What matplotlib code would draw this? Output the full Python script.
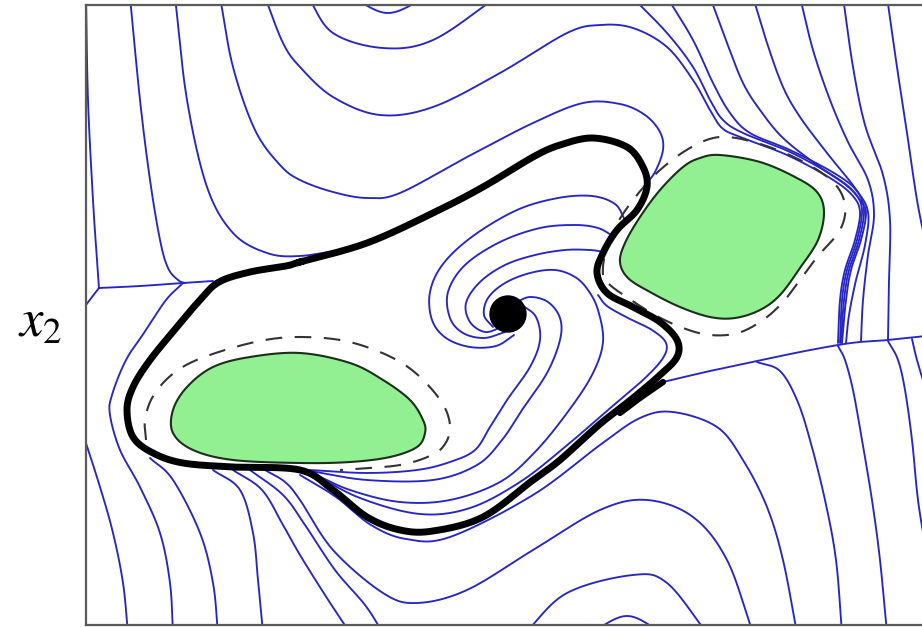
import numpy as np
import matplotlib
matplotlib.use("Agg")
import matplotlib.pyplot as plt
from matplotlib.patches import Polygon, Circle

plt.rcParams['mathtext.fontset'] = 'stix'

# ---------------------------------------------------------------------------
# Phase-plane data, state domain x1 in [0, 836], x2 in [0, 620]
# ---------------------------------------------------------------------------
equilibrium = (422, 311)
equilibrium_radius = 18

# unsafe sets (filled) and their safety margins (dashed)
unsafe_a = [(87, 215), (101, 238), (127, 258), (164, 268), (214, 272), (264, 262),
            (297, 245), (324, 225), (337, 205), (339, 192), (331, 178), (304, 168),
            (264, 163), (214, 162), (147, 165), (107, 175), (87, 192)]
unsafe_b = [(634, 470), (674, 463), (709, 448), (731, 433), (738, 413), (732, 385),
            (714, 357), (694, 330), (674, 315), (649, 307), (624, 308), (594, 318),
            (564, 333), (542, 347), (534, 363), (539, 382), (554, 408), (574, 435),
            (597, 458), (614, 467)]
margin_a = [(60, 185), (59, 205), (66, 227), (82, 247), (104, 262), (139, 275),
            (179, 285), (214, 288), (254, 285), (289, 275), (319, 260), (342, 240),
            (359, 217), (364, 195), (356, 177), (339, 167), (314, 160), (284, 157),
            (254, 155)]
margin_b = [(517, 350), (520, 375), (532, 403), (551, 430), (574, 455), (604, 477),
            (634, 488), (671, 482), (714, 465), (747, 443), (759, 420), (754, 395),
            (732, 369), (714, 345), (697, 323), (677, 305), (652, 292), (624, 290),
            (597, 297), (569, 310), (542, 327), (524, 340)]

# boundary of the estimated region of attraction
boundary = [(214, 363), (281, 382), (347, 412), (397, 438), (447, 468), (474, 480),
            (507, 487), (541, 478), (557, 458), (561, 438), (551, 415), (531, 395),
            (517, 372), (511, 352), (521, 332), (547, 318), (574, 303), (591, 285),
            (591, 268), (574, 250), (547, 227), (514, 201), (474, 165), (447, 145),
            (397, 108), (347, 94), (314, 95), (281, 108), (247, 135), (214, 155),
            (147, 158), (97, 162), (67, 172), (47, 188), (41, 215), (47, 238),
            (64, 265), (91, 298), (114, 325), (133, 343), (164, 353), (200, 359)]
boundary_tail = [(577, 243), (554, 227), (534, 212)]

# trajectories above the boundary
upper_left = [
    [(0, 628), (2, 525), (7, 425), (11, 365), (13, 337)],
    [(13, 337), (6, 328), (-3, 316)],
    [(13, 337), (54, 339), (97, 342), (127, 344)],
    [(44, 628), (54, 525), (64, 445), (74, 385), (82, 357), (92, 345), (99, 342)],
    [(89, 628), (101, 525), (121, 438), (147, 392), (181, 372), (214, 369), (259, 376)],
    [(134, 628), (147, 558), (169, 495), (194, 460), (214, 445), (247, 433), (281, 427),
     (314, 432), (381, 468), (447, 502), (497, 522), (534, 521), (559, 510), (574, 493),
     (577, 475), (569, 453), (559, 440)],
    [(179, 628), (197, 582), (214, 558), (247, 528), (294, 510), (347, 518), (414, 552),
     (481, 592), (514, 600), (547, 597), (581, 578), (607, 545), (624, 515), (636, 497),
     (654, 488), (701, 470), (744, 447), (766, 430), (774, 413), (769, 385), (759, 355),
     (754, 325), (752, 282)],
    [(222, 628), (247, 592), (297, 577), (347, 585), (411, 628)],
    [(265, 628), (302, 612), (341, 628)],
]

top_right = [
    [(546, 628), (581, 592), (607, 558), (624, 525), (637, 505), (657, 492), (704, 473),
     (746, 450), (768, 433), (776, 415), (771, 385), (761, 355), (756, 325), (754, 282)],
    [(581, 628), (607, 585), (627, 542), (644, 512), (664, 492), (704, 475), (748, 452),
     (770, 435), (778, 415), (773, 385), (763, 355), (758, 325), (755, 282)],
    [(624, 628), (641, 582), (657, 542), (674, 515), (697, 487), (731, 460), (760, 440),
     (774, 425), (780, 412), (775, 385), (765, 355), (760, 325), (756, 282)],
    [(667, 628), (681, 582), (697, 538), (714, 508), (741, 472), (769, 437), (782, 413),
     (779, 380), (770, 345), (763, 310), (760, 282)],
    [(714, 628), (727, 575), (744, 525), (762, 483), (782, 445), (788, 410), (782, 370),
     (777, 325), (775, 284)],
    [(757, 628), (767, 558), (779, 500), (797, 450), (804, 405), (803, 345), (802, 285)],
    [(801, 628), (811, 558), (821, 492), (831, 425), (840, 380)],
]

lower_right = [
    [(840, 289), (802, 285), (774, 283), (752, 280), (714, 273), (671, 264), (624, 254),
     (577, 243)],
    [(752, 279), (759, 265), (767, 235), (776, 185), (786, 125), (794, 65), (801, -8)],
    [(802, 284), (812, 265), (819, 235), (826, 185), (832, 125), (840, 75)],
    [(826, 286), (831, 265), (840, 235)],
    [(671, 263), (694, 254), (711, 225), (724, 185), (739, 125), (750, 65), (756, -8)],
    [(214, 150), (250, 128), (285, 100), (320, 86), (364, 88), (447, 130), (514, 180),
     (554, 207), (587, 213), (631, 198), (657, 165), (681, 118), (697, 65), (711, -8)],
    [(179, 155), (199, 143), (214, 125), (247, 75), (297, 32), (331, 22), (381, 35),
     (447, 75), (514, 115), (561, 125), (607, 108), (641, 65), (667, -8)],
    [(439, -8), (481, 32), (547, 50), (581, 42), (621, -8)],
    [(504, -8), (541, 9), (577, -8)],
]

lower_left = [
    [(-2, 188), (14, 138), (27, 92), (37, 42), (42, -8)],
    [(97, 342), (80, 325), (60, 295), (40, 265), (26, 230), (24, 210), (34, 175),
     (54, 138), (74, 92), (84, 42), (87, -8)],
    [(64, 167), (87, 145), (114, 92), (127, 42), (132, -8)],
    [(127, 155), (154, 135), (167, 92), (172, 45), (177, -8)],
    [(147, 155), (176, 135), (197, 100), (214, 70), (239, 30), (264, -8)],
    [(164, 155), (197, 130), (219, 100), (249, 55), (279, 20), (297, -8)],
]

# trajectories inside the boundary converging to the equilibrium
inner = [
    [(224, 155), (281, 152), (331, 155), (364, 163), (389, 175), (404, 198), (421, 225),
     (444, 258), (454, 285), (450, 308), (436, 320)],
    [(224, 154), (281, 145), (347, 145), (391, 160), (416, 185), (436, 215), (461, 252),
     (474, 285), (474, 307), (462, 323), (444, 328), (429, 322)],
    [(224, 153), (264, 135), (314, 123), (364, 125), (414, 143), (449, 173), (481, 212),
     (506, 250), (517, 283), (512, 315), (502, 335), (489, 348), (469, 355), (444, 352),
     (419, 342), (402, 327), (398, 310), (407, 298)],
    [(224, 153), (274, 127), (334, 111), (384, 117), (434, 143), (479, 178), (522, 215),
     (557, 245), (577, 267), (580, 282), (566, 295), (542, 307), (521, 319), (512, 330)],
    [(539, 405), (529, 421), (506, 429), (472, 427), (431, 415), (387, 389), (357, 361),
     (344, 333), (346, 305), (360, 287), (384, 278), (410, 279), (428, 290)],
    [(527, 389), (512, 397), (489, 400), (454, 397), (414, 383), (379, 360), (362, 333),
     (364, 307), (377, 292), (398, 287), (419, 293)],
    [(518, 373), (504, 375), (479, 375), (449, 370), (419, 360), (394, 343), (380, 322),
     (384, 303), (399, 293), (416, 298)],
]


def spline(points, closed=False, n=24):
    """Catmull-Rom curve through the given points."""
    p = np.asarray(points, dtype=float)
    if closed:
        p = np.vstack([p[-1], p, p[0], p[1]])
    else:
        p = np.vstack([2 * p[0] - p[1], p, 2 * p[-1] - p[-2]])
    t = np.linspace(0, 1, n, endpoint=False)[:, None]
    pieces = []
    for i in range(1, len(p) - 2):
        p0, p1, p2, p3 = p[i - 1], p[i], p[i + 1], p[i + 2]
        pieces.append(0.5 * (2 * p1 + (-p0 + p2) * t
                             + (2 * p0 - 5 * p1 + 4 * p2 - p3) * t ** 2
                             + (-p0 + 3 * p1 - 3 * p2 + p3) * t ** 3))
    pieces.append(p[-2][None])
    return np.vstack(pieces)


fig = plt.figure(figsize=(9.22, 6.27), dpi=100)
ax = fig.add_axes([86 / 922, 2 / 627, 836 / 922, 620 / 627])
ax.set_xlim(0, 836)
ax.set_ylim(0, 620)
ax.set_xticks([])
ax.set_yticks([])
for side in ('left', 'top', 'bottom'):
    ax.spines[side].set_color('#5a5a5a')
    ax.spines[side].set_linewidth(1.6)
    ax.spines[side].set_zorder(10)
ax.spines['right'].set_visible(False)

blue = '#2626c6'
for group in (upper_left, top_right, lower_right, lower_left, inner):
    for traj in group:
        c = spline(traj)
        ax.plot(c[:, 0], c[:, 1], color=blue, lw=1.35, zorder=2,
                solid_capstyle='round')

for region in (unsafe_a, unsafe_b):
    c = spline(region, closed=True)
    ax.add_patch(Polygon(c, closed=True, facecolor='#92ef92',
                         edgecolor='#1c2e1c', lw=1.5, zorder=3))

c = spline(margin_a)
ax.plot(c[:, 0], c[:, 1], color='#333333', lw=1.5, ls=(0, (8, 6)), zorder=3)
c = spline(margin_b, closed=True)
ax.plot(c[:, 0], c[:, 1], color='#333333', lw=1.5, ls=(0, (8, 6)), zorder=3)

c = spline(boundary, closed=True)
ax.plot(c[:, 0], c[:, 1], color='black', lw=5, zorder=4, solid_joinstyle='round')
c = spline(boundary_tail)
ax.plot(c[:, 0], c[:, 1], color='black', lw=4.5, zorder=4, solid_capstyle='round')

ax.add_patch(Circle(equilibrium, equilibrium_radius, color='black', zorder=5))

fig.text(40 / 922, 1 - 322 / 627, r'$x_2$', fontsize=38, ha='center', va='center')

fig.savefig('out.png', dpi=100)
